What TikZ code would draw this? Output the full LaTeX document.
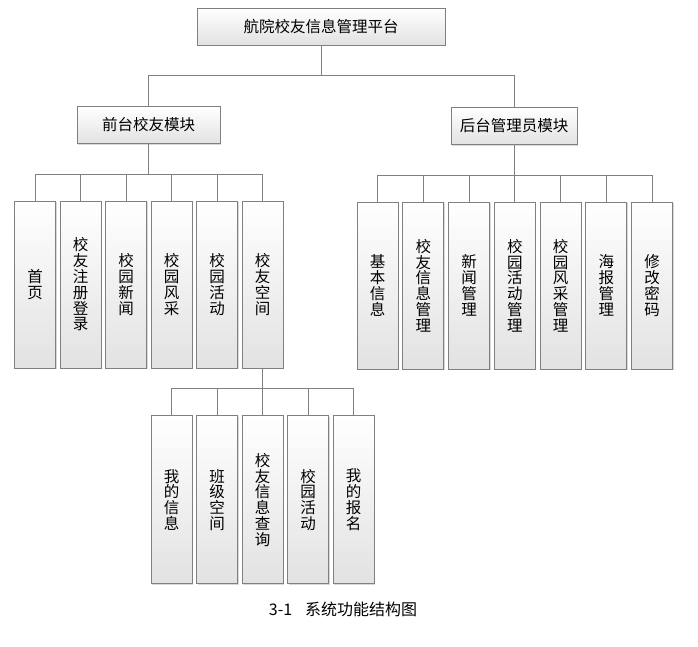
\documentclass[tikz,border=0pt]{standalone}
\usepackage{fontspec}
\setmainfont{Noto Sans CJK SC}
\usetikzlibrary{positioning,shadows}
\definecolor{boxline}{HTML}{808080}
\definecolor{boxshade}{HTML}{E2E2E2}
\tikzset{
  modbox/.style={rectangle, draw=boxline, line width=0.8pt, top color=white, bottom color=boxshade,
                 drop shadow={shadow xshift=1.2pt, shadow yshift=-1.2pt, fill=gray!60, opacity=0.5},
                 font=\fontsize{15.5}{15.8}\selectfont, inner sep=0pt, minimum height=37pt},
  funcbox/.style={modbox, align=center, minimum width=41pt, minimum height=167pt},
  conn/.style={draw=boxline, line width=0.8pt},
}

\begin{document}
\begin{tikzpicture}[x=1pt, y=-1pt, node distance=3.7pt]
  \useasboundingbox (0,0) rectangle (698,646);
  % top levels
  \node[modbox, minimum width=248pt] (sys) at (321,26.5) {航院校友信息管理平台};
  \node[modbox, minimum width=143pt] (qt) at (148.5,125) {前台校友模块};
  \node[modbox, minimum width=126pt] (ht) at (514,126) {后台管理员模块};
  \coordinate[below=30pt of sys.south] (b0);
  \draw[conn] (sys) -- (b0);
  \draw[conn] (qt.north) |- (b0) -| (ht.north);

  % 前台校友模块
  \node[funcbox] (q1) at (35,284.5) {首\\页};
  \node[funcbox, right=of q1] (q2) {校\\友\\注\\册\\登\\录};
  \node[funcbox, right=of q2] (q3) {校\\园\\新\\闻};
  \node[funcbox, right=of q3] (q4) {校\\园\\风\\采};
  \node[funcbox, right=of q4] (q5) {校\\园\\活\\动};
  \node[funcbox, right=of q5] (q6) {校\\友\\空\\间};
  \coordinate[below=30pt of qt.south] (b1);
  \draw[conn] (qt) -- (b1);
  \foreach \i in {1,...,6} \draw[conn] (b1) -| (q\i.north);

  % 后台管理员模块
  \node[funcbox] (h1) at (377.5,285.5) {基\\本\\信\\息};
  \node[funcbox, right=3.95pt of h1] (h2) {校\\友\\信\\息\\管\\理};
  \node[funcbox, right=3.95pt of h2] (h3) {新\\闻\\管\\理};
  \node[funcbox, right=3.95pt of h3] (h4) {校\\园\\活\\动\\管\\理};
  \node[funcbox, right=3.95pt of h4] (h5) {校\\园\\风\\采\\管\\理};
  \node[funcbox, right=3.95pt of h5] (h6) {海\\报\\管\\理};
  \node[funcbox, right=3.95pt of h6] (h7) {修\\改\\密\\码};
  \coordinate[below=30pt of ht.south] (b2);
  \draw[conn] (ht) -- (b2);
  \foreach \i in {1,...,7} \draw[conn] (b2) -| (h\i.north);

  % 校友空间
  \coordinate[below=20pt of q6.south] (b3);
  \node[funcbox, minimum height=168pt, below=27pt of b3] (s3) {校\\友\\信\\息\\查\\询};
  \node[funcbox, minimum height=168pt, left=of s3] (s2) {班\\级\\空\\间};
  \node[funcbox, minimum height=168pt, left=of s2] (s1) {我\\的\\信\\息};
  \node[funcbox, minimum height=168pt, right=of s3] (s4) {校\\园\\活\\动};
  \node[funcbox, minimum height=168pt, right=of s4] (s5) {我\\的\\报\\名};
  \draw[conn] (q6) -- (b3);
  \foreach \i in {1,...,5} \draw[conn] (b3) -| (s\i.north);

  \node[font=\fontsize{16}{18}\selectfont] (cap) at (343,609) {3-1\hspace{0.8em}系统功能结构图};
\end{tikzpicture}
\end{document}
